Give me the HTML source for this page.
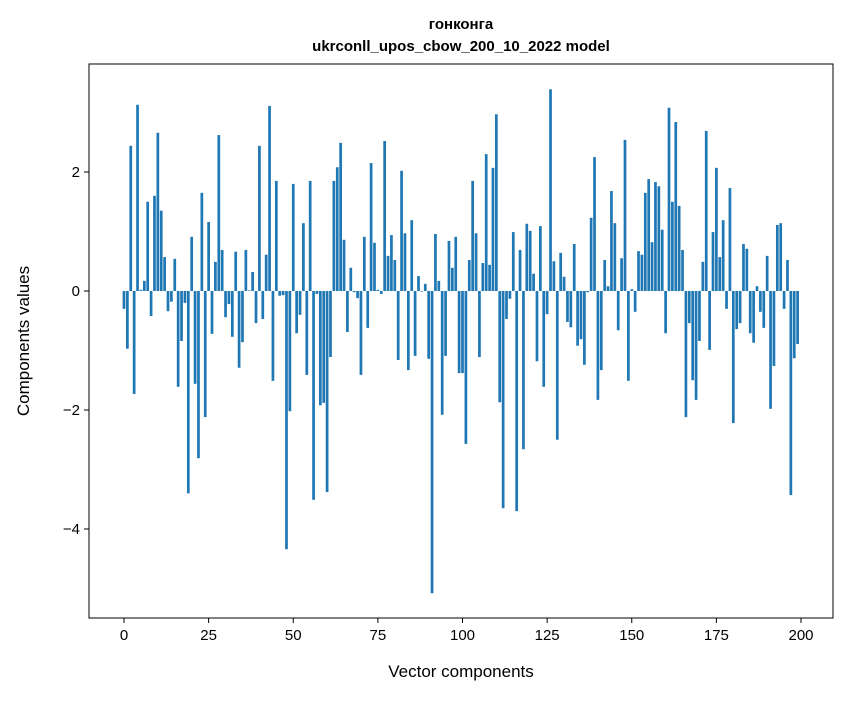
<!DOCTYPE html>
<html><head><meta charset="utf-8"><style>
body{margin:0;background:#fff}
svg text{font-family:"Liberation Sans","DejaVu Sans",sans-serif;fill:#000}
</style></head><body>
<svg width="847" height="696" xmlns="http://www.w3.org/2000/svg">
<text x="461" y="29" text-anchor="middle" font-size="15" font-weight="bold">гонконга</text>
<text x="461" y="51" text-anchor="middle" font-size="15" font-weight="bold">ukrconll_upos_cbow_200_10_2022 model</text>
<g id="bars"></g>
<rect x="89" y="64" width="744" height="554" fill="none" stroke="#000" stroke-width="1"/>
<g id="xticks"></g>
<g id="yticks"></g>
<text x="461" y="677" text-anchor="middle" font-size="17">Vector components</text>
<text transform="translate(29,341) rotate(-90)" text-anchor="middle" font-size="17">Components values</text>
</svg>
<script>
const values = [-0.30,-0.97,2.44,-1.73,3.13,0.02,0.17,1.50,-0.42,1.60,2.66,1.35,0.57,-0.34,-0.18,0.54,-1.61,-0.84,-0.20,-3.40,
0.91,-1.56,-2.81,1.65,-2.12,1.16,-0.72,0.49,2.62,0.69,-0.44,-0.22,-0.77,0.66,-1.29,-0.86,0.69,0.01,0.32,-0.54,
2.44,-0.47,0.61,3.11,-1.51,1.85,-0.08,-0.07,-4.34,-2.02,1.80,-0.71,-0.40,1.14,-1.41,1.85,-3.51,-0.05,-1.92,-1.88,
-3.38,-1.11,1.85,2.08,2.49,0.86,-0.69,0.39,-0.02,-0.12,-1.41,0.91,-0.62,2.15,0.81,0.02,-0.05,2.52,0.59,0.94,
0.52,-1.16,2.02,0.97,-1.33,1.19,-1.09,0.25,-0.01,0.12,-1.14,-5.08,0.96,0.17,-2.08,-1.09,0.84,0.39,0.91,-1.38,
-1.38,-2.57,0.52,1.85,0.97,-1.11,0.47,2.30,0.44,2.07,2.97,-1.87,-3.65,-0.47,-0.13,0.99,-3.70,0.69,-2.66,1.13,
1.01,0.29,-1.18,1.09,-1.61,-0.39,3.39,0.50,-2.50,0.64,0.24,-0.52,-0.61,0.79,-0.92,-0.81,-1.24,-0.02,1.23,2.25,
-1.83,-1.33,0.52,0.08,1.68,1.14,-0.66,0.55,2.54,-1.51,0.03,-0.35,0.67,0.61,1.65,1.88,0.82,1.83,1.76,1.03,
-0.71,3.08,1.50,2.84,1.43,0.69,-2.12,-0.54,-1.50,-1.83,-0.84,0.49,2.69,-0.99,0.99,2.07,0.57,1.19,-0.30,1.73,
-2.22,-0.64,-0.54,0.79,0.71,-0.71,-0.87,0.08,-0.35,-0.62,0.59,-1.98,-1.26,1.11,1.14,-0.30,0.52,-3.43,-1.13,-0.89];
const xTicks = [0,25,50,75,100,125,150,175,200];
const yTicks = [-4,-2,0,2];
const yTickLabels = ["\u22124","\u22122","0","2"];
const NS="http://www.w3.org/2000/svg";
const X0=89,X1=833,Y0=64,Y1=618,xmin=-10.34,xmax=209.45,ymin=-5.496,ymax=3.815;
function xs(v){return X0+(v-xmin)/(xmax-xmin)*(X1-X0);}
function ys(v){return Y1-(v-ymin)/(ymax-ymin)*(Y1-Y0);}
const bars=document.getElementById('bars');
values.forEach((v,i)=>{
  const r=document.createElementNS(NS,'rect');
  const w=xs(0.8)-xs(0);
  r.setAttribute('x',xs(i-0.4));r.setAttribute('width',w);
  r.setAttribute('y',Math.min(ys(v),ys(0)));r.setAttribute('height',Math.abs(ys(v)-ys(0)));
  r.setAttribute('fill','#1f77b4');
  
  
  bars.appendChild(r);
});
const xg=document.getElementById('xticks');
xTicks.forEach(t=>{
  const l=document.createElementNS(NS,'line');
  l.setAttribute('x1',xs(t));l.setAttribute('x2',xs(t));l.setAttribute('y1',Y1);l.setAttribute('y2',Y1+5);l.setAttribute('stroke','#000');
  
  
  xg.appendChild(l);
  const tx=document.createElementNS(NS,'text');
  tx.setAttribute('x',xs(t));tx.setAttribute('y',Y1+22);tx.setAttribute('text-anchor','middle');tx.setAttribute('font-size','15');
  tx.textContent=t;
  
  
  xg.appendChild(tx);
});
const yg=document.getElementById('yticks');
yTicks.forEach((t,k)=>{
  const l=document.createElementNS(NS,'line');
  l.setAttribute('x1',X0-5);l.setAttribute('x2',X0);l.setAttribute('y1',ys(t));l.setAttribute('y2',ys(t));l.setAttribute('stroke','#000');
  
  
  yg.appendChild(l);
  const tx=document.createElementNS(NS,'text');
  tx.setAttribute('x',X0-9);tx.setAttribute('y',ys(t)+5);tx.setAttribute('text-anchor','end');tx.setAttribute('font-size','15');
  tx.textContent=yTickLabels[k];
  
  
  yg.appendChild(tx);
});
</script>
</body></html>
